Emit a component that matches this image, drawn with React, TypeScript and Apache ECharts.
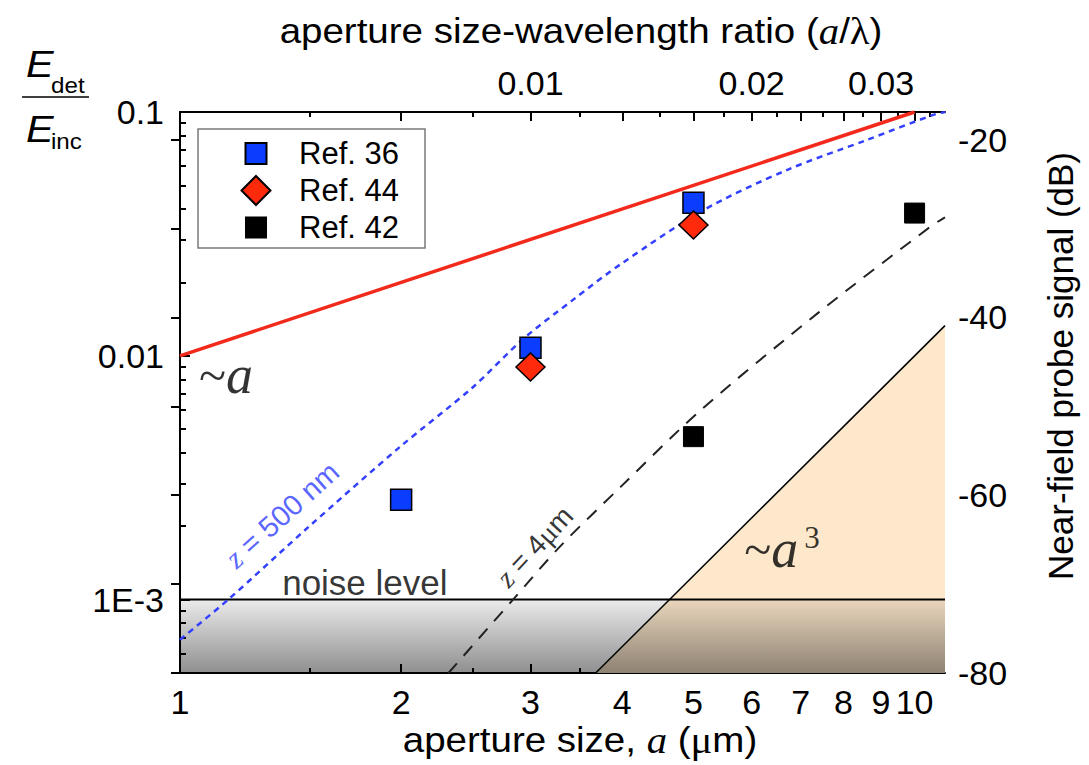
import React, { useEffect, useRef } from 'react';
import * as echarts from 'echarts';

const SANS = '"Liberation Sans", Arial, Helvetica, sans-serif';
const SERIF = '"Liberation Serif", "Times New Roman", serif';

// ---- axis ranges ----
const X_RANGE = [1, 11]; // aperture size a (µm), log scale
const Y_RANGE = [5e-4, 0.1]; // E_det / E_inc, log scale
const DB_RANGE = [-80, -16.9]; // right axis, near-field probe signal (dB)
const LAMBDA_UM = 300; // wavelength for the top a/λ axis

// ---- ticks / tick labels ----
const X_MAJOR = [1, 2, 3, 4, 5, 6, 7, 8, 9, 10];
const X_MINOR = [1.5, 2.5, 3.5, 4.5, 5.5, 6.5, 7.5, 8.5, 9.5, 10.5];
const TOP_RATIOS = [0.01, 0.02, 0.03];
const Y_MAJOR = [1e-3, 1e-2, 1e-1];
const Y_MAJOR_LABELS = ['1E-3', '0.01', '0.1'];
const Y_MINOR = [
  6e-4, 7e-4, 8e-4, 9e-4,
  2e-3, 3e-3, 4e-3, 5e-3, 6e-3, 7e-3, 8e-3, 9e-3,
  2e-2, 3e-2, 4e-2, 5e-2, 6e-2, 7e-2, 8e-2, 9e-2,
];
const DB_TICKS = [-80, -70, -60, -50, -40, -30, -20];
const DB_LABELS = [-80, -60, -40, -20];

// ---- measured points ----
const REF36_A = [2, 3, 5];
const REF36_E = [0.00257, 0.0108, 0.0424];
const REF44_A = [3, 5];
const REF44_E = [0.009, 0.0344];
const REF42_A = [5, 10];
const REF42_E = [0.00466, 0.0385];

// ---- model curves ----
const LINEAR_A = [1, 10];
const LINEAR_E = [0.01, 0.1];
const CUBIC_A = [3.68, 11];
const CUBIC_E = [5e-4, 0.0133];
const NOISE_A = [1, 11];
const NOISE_E = [1e-3, 1e-3];
const Z500_A = [1.0, 1.163, 1.5, 2.0, 2.5, 2.93, 3.43, 4.0, 5.16, 6.7, 8.6, 10.6, 11.0];
const Z500_E = [6.85e-4, 1.0e-3, 2.0e-3, 4.27e-3, 7.4e-3, 0.0117, 0.017, 0.024, 0.0396, 0.0578, 0.0767, 0.0973, 0.1];
const Z4_A = [2.32, 2.84, 3.29, 3.98, 5.12, 7.39, 10.5, 11.0];
const Z4_E = [5.0e-4, 1.0e-3, 1.65e-3, 2.9e-3, 6.0e-3, 0.015, 0.0338, 0.037];

// ---- annotations (anchored in data coordinates) ----
const NOTE_KEYS = ['lin', 'cub', 'noise', 'z500', 'z4'];
const NOTE_A = [1.155, 6.6, 1.785, 1.377, 3.04];
const NOTE_E = [0.00835, 0.00162, 0.00118, 0.00223, 0.00165];

const lg = Math.log10;
const toPts = (xs: number[], ys: number[]) => xs.map((x, i) => [lg(x), lg(ys[i])]);

function buildOption() {
  const axisLine = { show: true, lineStyle: { color: '#000', width: 2 } };
  const tickLine = { color: '#000', width: 2 };
  const labelBase = { fontSize: 34, fontFamily: SANS, color: '#000' };
  const xMin = lg(X_RANGE[0]);
  const xMax = lg(X_RANGE[1]);
  const yMin = lg(Y_RANGE[0]);
  const yMax = lg(Y_RANGE[1]);

  const xAxisMajor = (position: string, labelValues: number[], fmt: (v: number) => string) => ({
    type: 'value',
    position,
    min: xMin,
    max: xMax,
    axisLine,
    splitLine: { show: false },
    axisTick: { show: true, inside: true, length: 9, lineStyle: tickLine, customValues: X_MAJOR.map(lg) },
    axisLabel: { show: true, ...labelBase, margin: 12, customValues: labelValues, formatter: fmt },
  });
  const xAxisMinor = (position: string) => ({
    type: 'value',
    position,
    min: xMin,
    max: xMax,
    axisLine: { show: false },
    splitLine: { show: false },
    axisTick: { show: true, inside: true, length: 5, lineStyle: tickLine, customValues: X_MINOR.map(lg) },
    axisLabel: { show: false },
  });

  const noteLabel = (key: string) => {
    const base = { show: true, position: 'inside' };
    switch (key) {
      case 'lin':
        return { ...base, formatter: '{t|~}{i|a}', rich: {
          t: { fontFamily: SERIF, fontSize: 50, color: '#000' },
          i: { fontFamily: SERIF, fontStyle: 'italic', fontSize: 54, color: '#000' } } };
      case 'cub':
        return { ...base, formatter: '{t|~}{i|a}{s|3}', rich: {
          t: { fontFamily: SERIF, fontSize: 50, color: '#000' },
          i: { fontFamily: SERIF, fontStyle: 'italic', fontSize: 54, color: '#000' },
          s: { fontFamily: SERIF, fontSize: 31, color: '#000', verticalAlign: 'top', padding: [0, 0, 0, 6] } } };
      case 'noise':
        return { ...base, formatter: 'noise level', fontFamily: SANS, fontSize: 35, color: '#000' };
      case 'z500':
        return { ...base, rotate: 42, formatter: '{i|z}{n| = 500 nm}', rich: {
          i: { fontFamily: SERIF, fontStyle: 'italic', fontSize: 30, color: '#2f3dff' },
          n: { fontFamily: SANS, fontSize: 29, color: '#2f3dff' } } };
      default:
        return { ...base, rotate: 47, formatter: '{i|z}{n| = 4}{g|μ}{n|m}', rich: {
          i: { fontFamily: SERIF, fontStyle: 'italic', fontSize: 29, color: '#000' },
          n: { fontFamily: SANS, fontSize: 28, color: '#000' },
          g: { fontFamily: SERIF, fontSize: 29, color: '#000' } } };
    }
  };

  const legendBase = {
    orient: 'vertical',
    padding: 0,
    selectedMode: false,
    z: 20,
    textStyle: { fontFamily: SANS, fontSize: 31, color: '#000', lineHeight: 30 },
  };

  return {
    animation: false,
    backgroundColor: '#fff',
    grid: { left: 180, right: 144, top: 112, bottom: 92 },
    xAxis: [
      xAxisMajor('bottom', X_MAJOR.map(lg), (v: number) => String(Math.round(Math.pow(10, v)))),
      xAxisMinor('bottom'),
      xAxisMajor('top', TOP_RATIOS.map((r) => lg(r * LAMBDA_UM)), (v: number) =>
        (Math.pow(10, v) / LAMBDA_UM).toFixed(2)),
      xAxisMinor('top'),
    ],
    yAxis: [
      {
        type: 'value', position: 'left', min: yMin, max: yMax, axisLine, splitLine: { show: false },
        axisTick: { show: true, inside: true, length: 10, lineStyle: tickLine, customValues: Y_MAJOR.map(lg) },
        axisLabel: {
          show: true, ...labelBase, margin: 16, customValues: Y_MAJOR.map(lg),
          formatter: (v: number) => {
            const k = Y_MAJOR.findIndex((m) => Math.abs(lg(m) - v) < 1e-6);
            return k >= 0 ? Y_MAJOR_LABELS[k] : '';
          },
        },
      },
      {
        type: 'value', position: 'left', min: yMin, max: yMax, axisLine: { show: false }, splitLine: { show: false },
        axisTick: { show: true, inside: true, length: 6, lineStyle: tickLine, customValues: Y_MINOR.map(lg) },
        axisLabel: { show: false },
      },
      {
        type: 'value', position: 'right', min: DB_RANGE[0], max: DB_RANGE[1], axisLine, splitLine: { show: false },
        axisTick: { show: true, inside: true, length: 9, lineStyle: tickLine, customValues: DB_TICKS },
        axisLabel: { show: true, ...labelBase, margin: 13, customValues: DB_LABELS, formatter: (v: number) => String(v) },
      },
    ],
    legend: [
      { ...legendBase, data: ['Ref. 36'], left: 244.5, top: 138, itemWidth: 21, itemHeight: 21,
        textStyle: { ...legendBase.textStyle, padding: [0, 0, 0, 27.5] } },
      { ...legendBase, data: ['Ref. 44'], left: 240.5, top: 175, itemWidth: 29, itemHeight: 29,
        textStyle: { ...legendBase.textStyle, padding: [0, 0, 0, 23.5] } },
      { ...legendBase, data: ['Ref. 42'], left: 245, top: 212, itemWidth: 20, itemHeight: 20,
        textStyle: { ...legendBase.textStyle, padding: [0, 0, 0, 28] } },
    ],
    graphic: [
      { type: 'rect', z: 10, shape: { x: 198, y: 129, width: 227, height: 119 },
        style: { fill: '#fff', stroke: '#7a7a7a', lineWidth: 1.5 } },
      // y-axis title: E_det / E_inc
      { type: 'text', x: 26, y: 64, scaleX: 1.12, style: { text: 'E', fontFamily: SANS, fontStyle: 'italic', fontSize: 37, fill: '#000', verticalAlign: 'middle' } },
      { type: 'text', x: 51, y: 85, scaleX: 1.1, style: { text: 'det', fontFamily: SANS, fontSize: 22, fill: '#000', verticalAlign: 'middle' } },
      { type: 'line', shape: { x1: 22, y1: 97, x2: 89, y2: 97 }, style: { stroke: '#000', lineWidth: 1.5 } },
      { type: 'text', x: 26, y: 129, scaleX: 1.12, style: { text: 'E', fontFamily: SANS, fontStyle: 'italic', fontSize: 37, fill: '#000', verticalAlign: 'middle' } },
      { type: 'text', x: 51, y: 141, scaleX: 1.1, style: { text: 'inc', fontFamily: SANS, fontSize: 22, fill: '#000', verticalAlign: 'middle' } },
      // top axis title
      { type: 'text', x: 581, y: 31, scaleX: 1.1, style: {
        text: '{n|aperture size-wavelength ratio (}{i|a}{n|/}{g|λ}{n|)}', align: 'center', verticalAlign: 'middle',
        rich: {
          n: { fontFamily: SANS, fontSize: 35, fill: '#000' },
          i: { fontFamily: SERIF, fontStyle: 'italic', fontSize: 37, fill: '#000' },
          g: { fontFamily: SERIF, fontSize: 37, fill: '#000' },
        } } },
      // bottom axis title
      { type: 'text', x: 580, y: 740, scaleX: 1.1, style: {
        text: '{n|aperture size, }{i|a}{n| (}{g|μ}{n|m)}', align: 'center', verticalAlign: 'middle',
        rich: {
          n: { fontFamily: SANS, fontSize: 35, fill: '#000' },
          i: { fontFamily: SERIF, fontStyle: 'italic', fontSize: 37, fill: '#000' },
          g: { fontFamily: SERIF, fontSize: 37, fill: '#000' },
        } } },
      // right axis title
      { type: 'text', x: 1060, y: 366, rotation: Math.PI / 2, style: {
        text: 'Near-field probe signal (dB)', fontFamily: SANS, fontSize: 35, fill: '#000',
        align: 'center', verticalAlign: 'middle' } },
    ],
    series: [
      {
        type: 'line', name: 'a³ region', data: toPts(CUBIC_A, CUBIC_E), symbol: 'none', silent: true, z: 1,
        lineStyle: { color: '#000', width: 1.5 },
        areaStyle: { color: '#fde8cc', opacity: 1, origin: 'start' },
      },
      {
        type: 'line', name: 'noise level', data: toPts(NOISE_A, NOISE_E), symbol: 'none', silent: true, z: 2,
        lineStyle: { color: '#000', width: 2 },
        areaStyle: {
          opacity: 1, origin: 'start',
          color: new echarts.graphic.LinearGradient(0, 0, 0, 1, [
            { offset: 0, color: 'rgba(0,0,0,0.08)' },
            { offset: 1, color: 'rgba(0,0,0,0.44)' },
          ]),
        },
      },
      {
        type: 'line', name: '~a', data: toPts(LINEAR_A, LINEAR_E), symbol: 'none', silent: true, z: 3,
        lineStyle: { color: '#f2291b', width: 3.5 },
      },
      {
        type: 'line', name: 'z = 500 nm', data: toPts(Z500_A, Z500_E), symbol: 'none', smooth: 0.3, silent: true, z: 3,
        lineStyle: { color: '#3340ff', width: 2.5, type: [6, 5] },
      },
      {
        type: 'line', name: 'z = 4 µm', data: toPts(Z4_A, Z4_E), symbol: 'none', smooth: 0.3, silent: true, z: 3,
        lineStyle: { color: '#222', width: 2, type: [13, 10] },
      },
      {
        type: 'scatter', name: 'Ref. 36', data: toPts(REF36_A, REF36_E), symbol: 'rect', symbolSize: 21, z: 4,
        itemStyle: { color: '#0b3dff', borderColor: '#000', borderWidth: 1.5, opacity: 1 },
      },
      {
        type: 'scatter', name: 'Ref. 44', data: toPts(REF44_A, REF44_E), symbol: 'diamond', symbolSize: [29, 28], z: 4,
        itemStyle: { color: '#ff2a0c', borderColor: '#000', borderWidth: 1.5, opacity: 1 },
      },
      {
        type: 'scatter', name: 'Ref. 42', data: toPts(REF42_A, REF42_E), symbol: 'rect', symbolSize: 20, z: 4,
        itemStyle: { color: '#000', borderColor: '#000', borderWidth: 1, opacity: 1 },
      },
      {
        type: 'scatter', name: 'annotations', silent: true, z: 6, symbolSize: 1,
        itemStyle: { color: 'rgba(0,0,0,0)' },
        data: NOTE_KEYS.map((k, i) => ({ value: [lg(NOTE_A[i]), lg(NOTE_E[i])], label: noteLabel(k) })),
      },
    ],
  };
}

export default function App() {
  const ref = useRef<HTMLDivElement>(null);
  useEffect(() => {
    if (!ref.current) return;
    const chart = echarts.init(ref.current, null, { renderer: 'svg' });
    chart.setOption(buildOption() as any);
    return () => chart.dispose();
  }, []);
  return (
    <div
      ref={ref}
      style={{ position: 'fixed', left: 0, top: 0, width: 1089, height: 765, background: '#fff' }}
    />
  );
}
